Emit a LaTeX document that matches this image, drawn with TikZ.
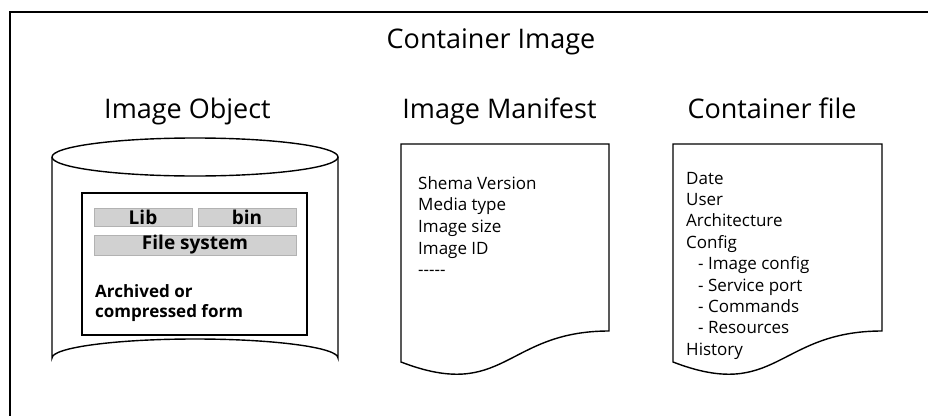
\documentclass[tikz,border=0pt]{standalone}
\usepackage{fontspec}
\setmainfont{Open Sans}
\begin{document}
\begin{tikzpicture}[x=1pt,y=-1pt,
  outline/.style={line width=1.4pt, draw=black},
  heading/.style={font=\fontsize{27}{30}\selectfont, inner sep=0pt, anchor=base},
  % multi-line lists are placed by the baseline of their last line
  listtext/.style={font=\fontsize{17}{21.4}\selectfont, align=left, anchor=base west, inner sep=0pt},
  graybar/.style={fill=black!18, draw=black!30, line width=0.8pt, inner sep=0pt,
    font=\fontsize{19}{20}\selectfont\bfseries},
]
\useasboundingbox (0,0) rectangle (928,415);
% outer frame, open towards the right and bottom edge
\draw[line width=1.4pt] (10,420) -- (10,12) -- (935,12);

\node[heading] (title) at (491,48) {Container Image};
\node[heading] (objtitle) at (187.5,118) {Image Object};
\node[heading] (mantitle) at (499.5,118) {Image Manifest};
\node[heading] (cfgtitle) at (772,118) {Container file};

% cylinder for the image object
\draw[outline] (195,157) ellipse[x radius=143, y radius=19];
\draw[outline] (52,157) -- (52,358)
  arc[start angle=180, end angle=360, x radius=143, y radius=19] -- (338,157);

% archive box inside the cylinder
\draw[line width=1.2pt] (82,193) rectangle (307,335);
\node[graybar, minimum width=98pt, minimum height=18pt] (lib) at (143,217) {Lib};
\node[graybar, minimum width=98pt, minimum height=18pt] (bin) at (247,217) {bin};
\node[graybar, minimum width=202pt, minimum height=20pt] (fs) at (195,245) {File system};
\node[listtext, font=\fontsize{17}{20}\selectfont\bfseries] (arch) at (95,317)
  {Archived or\\compressed form};

% manifest document
\draw[outline] (401,144) -- (609,144) -- (609,331)
  .. controls (505,331) and (505,402) .. (401,362) -- cycle;
\node[listtext, font=\fontsize{17}{21.7}\selectfont] (manlist) at (418,275.8)
  {Shema Version\\Media type\\Image size\\Image ID\\-{}-{}-{}-{}-};

% container file document
\draw[outline] (673,144) -- (882,144) -- (882,331)
  .. controls (777,331) and (777,402) .. (673,362) -- cycle;
\node[listtext] (cfglist) at (686,355.2)
  {Date\\User\\Architecture\\Config\\
   \hspace*{12pt}- Image config\\\hspace*{12pt}- Service port\\
   \hspace*{12pt}- Commands\\\hspace*{12pt}- Resources\\History};
\end{tikzpicture}
\end{document}
